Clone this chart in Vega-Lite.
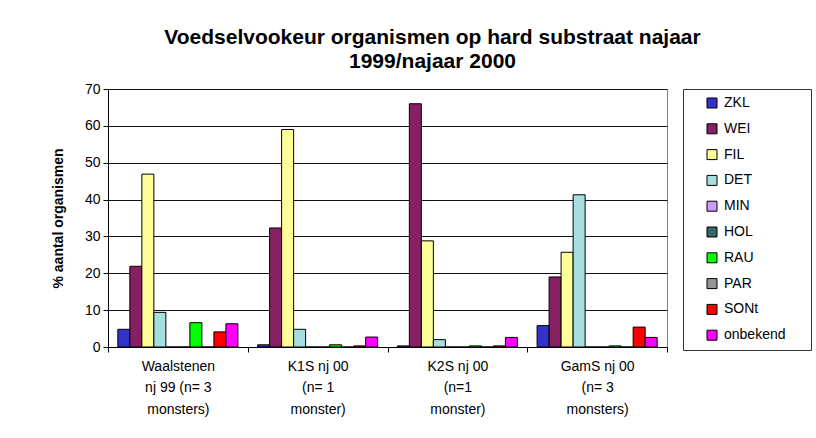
{
  "$schema": "https://vega.github.io/schema/vega-lite/v6.json",
  "width": 559,
  "height": 258,
  "autosize": {"type": "none"},
  "padding": {"left": 108, "top": 89, "right": 149, "bottom": 91},
  "background": "white",
  "config": {"font": "Liberation Sans", "view": {"stroke": "#808080", "strokeWidth": 1}},
  "title": {
    "text": ["Voedselvookeur organismen op hard substraat najaar", "1999/najaar 2000"],
    "fontSize": 21,
    "fontWeight": "bold",
    "font": "Liberation Sans",
    "color": "black",
    "anchor": "middle",
    "frame": "group",
    "dx": 45,
    "offset": 10,
    "lineHeight": 24
  },
  "data": {
    "values": [
      {"groep": "Waalstenen|nj 99 (n= 3|monsters)", "voedsel": "ZKL", "pct": 4.8},
      {"groep": "Waalstenen|nj 99 (n= 3|monsters)", "voedsel": "WEI", "pct": 21.9},
      {"groep": "Waalstenen|nj 99 (n= 3|monsters)", "voedsel": "FIL", "pct": 46.9},
      {"groep": "Waalstenen|nj 99 (n= 3|monsters)", "voedsel": "DET", "pct": 9.4},
      {"groep": "Waalstenen|nj 99 (n= 3|monsters)", "voedsel": "MIN", "pct": 0},
      {"groep": "Waalstenen|nj 99 (n= 3|monsters)", "voedsel": "HOL", "pct": 0},
      {"groep": "Waalstenen|nj 99 (n= 3|monsters)", "voedsel": "RAU", "pct": 6.6},
      {"groep": "Waalstenen|nj 99 (n= 3|monsters)", "voedsel": "PAR", "pct": 0},
      {"groep": "Waalstenen|nj 99 (n= 3|monsters)", "voedsel": "SONt", "pct": 4.1},
      {"groep": "Waalstenen|nj 99 (n= 3|monsters)", "voedsel": "onbekend", "pct": 6.3},
      {"groep": "K1S nj 00|(n= 1|monster)", "voedsel": "ZKL", "pct": 0.6},
      {"groep": "K1S nj 00|(n= 1|monster)", "voedsel": "WEI", "pct": 32.3},
      {"groep": "K1S nj 00|(n= 1|monster)", "voedsel": "FIL", "pct": 59.0},
      {"groep": "K1S nj 00|(n= 1|monster)", "voedsel": "DET", "pct": 4.8},
      {"groep": "K1S nj 00|(n= 1|monster)", "voedsel": "MIN", "pct": 0},
      {"groep": "K1S nj 00|(n= 1|monster)", "voedsel": "HOL", "pct": 0},
      {"groep": "K1S nj 00|(n= 1|monster)", "voedsel": "RAU", "pct": 0.6},
      {"groep": "K1S nj 00|(n= 1|monster)", "voedsel": "PAR", "pct": 0},
      {"groep": "K1S nj 00|(n= 1|monster)", "voedsel": "SONt", "pct": 0.3},
      {"groep": "K1S nj 00|(n= 1|monster)", "voedsel": "onbekend", "pct": 2.7},
      {"groep": "K2S nj 00|(n=1|monster)", "voedsel": "ZKL", "pct": 0.3},
      {"groep": "K2S nj 00|(n=1|monster)", "voedsel": "WEI", "pct": 66.0},
      {"groep": "K2S nj 00|(n=1|monster)", "voedsel": "FIL", "pct": 28.8},
      {"groep": "K2S nj 00|(n=1|monster)", "voedsel": "DET", "pct": 2.0},
      {"groep": "K2S nj 00|(n=1|monster)", "voedsel": "MIN", "pct": 0},
      {"groep": "K2S nj 00|(n=1|monster)", "voedsel": "HOL", "pct": 0},
      {"groep": "K2S nj 00|(n=1|monster)", "voedsel": "RAU", "pct": 0.3},
      {"groep": "K2S nj 00|(n=1|monster)", "voedsel": "PAR", "pct": 0},
      {"groep": "K2S nj 00|(n=1|monster)", "voedsel": "SONt", "pct": 0.3},
      {"groep": "K2S nj 00|(n=1|monster)", "voedsel": "onbekend", "pct": 2.6},
      {"groep": "GamS nj 00|(n= 3|monsters)", "voedsel": "ZKL", "pct": 5.8},
      {"groep": "GamS nj 00|(n= 3|monsters)", "voedsel": "WEI", "pct": 19.0},
      {"groep": "GamS nj 00|(n= 3|monsters)", "voedsel": "FIL", "pct": 25.7},
      {"groep": "GamS nj 00|(n= 3|monsters)", "voedsel": "DET", "pct": 41.3},
      {"groep": "GamS nj 00|(n= 3|monsters)", "voedsel": "MIN", "pct": 0},
      {"groep": "GamS nj 00|(n= 3|monsters)", "voedsel": "HOL", "pct": 0},
      {"groep": "GamS nj 00|(n= 3|monsters)", "voedsel": "RAU", "pct": 0.3},
      {"groep": "GamS nj 00|(n= 3|monsters)", "voedsel": "PAR", "pct": 0},
      {"groep": "GamS nj 00|(n= 3|monsters)", "voedsel": "SONt", "pct": 5.4},
      {"groep": "GamS nj 00|(n= 3|monsters)", "voedsel": "onbekend", "pct": 2.6}
    ]
  },
  "mark": {"type": "bar", "stroke": "black", "strokeWidth": 1},
  "encoding": {
    "x": {
      "field": "groep",
      "type": "nominal",
      "sort": null,
      "scale": {"paddingInner": 0, "paddingOuter": 0},
      "axis": {
        "title": null,
        "labelAngle": 0,
        "labelExpr": "split(datum.label, '|')",
        "labelFontSize": 14,
        "labelColor": "black",
        "labelLineHeight": 21.5,
        "labelPadding": 7,
        "labelLimit": 200,
        "tickBand": "extent",
        "tickSize": 5,
        "tickColor": "black",
        "domainColor": "black",
        "grid": false
      }
    },
    "xOffset": {
      "field": "voedsel",
      "type": "nominal",
      "sort": ["ZKL", "WEI", "FIL", "DET", "MIN", "HOL", "RAU", "PAR", "SONt", "onbekend"],
      "scale": {"paddingInner": 0, "paddingOuter": 0.82}
    },
    "y": {
      "field": "pct",
      "type": "quantitative",
      "scale": {"domain": [0, 70], "nice": false},
      "axis": {
        "title": "% aantal organismen",
        "titleFontSize": 14,
        "titleFontWeight": "bold",
        "titleColor": "black",
        "titlePadding": 19,
        "values": [0, 10, 20, 30, 40, 50, 60, 70],
        "labelFontSize": 14,
        "labelColor": "black",
        "labelPadding": 3,
        "tickSize": 5,
        "tickColor": "black",
        "domainColor": "black",
        "grid": true,
        "gridColor": "#111111",
        "gridWidth": 1
      }
    },
    "color": {
      "field": "voedsel",
      "type": "nominal",
      "scale": {
        "domain": ["ZKL", "WEI", "FIL", "DET", "MIN", "HOL", "RAU", "PAR", "SONt", "onbekend"],
        "range": ["#3333CC", "#862062", "#FFFF99", "#A6DEDE", "#CC99FF", "#336666", "#00FF00", "#969696", "#FF0000", "#FF00FF"]
      },
      "legend": {
        "orient": "none",
        "legendX": 575,
        "legendY": 0,
        "title": null,
        "fillColor": "white",
        "strokeColor": "#333333",
        "padding": 7,
        "symbolType": "square",
        "symbolSize": 100,
        "symbolStrokeColor": "black",
        "symbolStrokeWidth": 1,
        "symbolOffset": 15,
        "labelFontSize": 14,
        "labelColor": "black",
        "labelOffset": 5,
        "rowPadding": 11.8,
        "labelExpr": "datum.label + '\u00a0\u00a0\u2800'"
      }
    }
  }
}
